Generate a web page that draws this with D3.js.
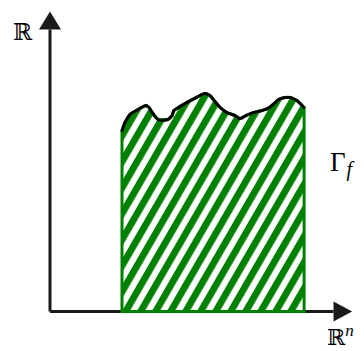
<!DOCTYPE html>
<html>
<head>
<meta charset="utf-8">
<script src="https://cdn.jsdelivr.net/npm/d3@7"></script>
<style>
  html, body { margin: 0; padding: 0; background: #fff; }
  svg { display: block; }
</style>
</head>
<body>
<svg id="chart" width="364" height="351"></svg>
<script>
// Graph of f: boundary (top curve) sampled points, in axis units
const curveX = [24.0, 25.0, 26.7, 29.3, 32.0, 33.0, 34.3, 36.0, 39.3, 40.7, 41.3, 43.3, 45.7, 48.7, 51.7, 53.3, 55.0, 56.7, 59.0, 61.7, 63.3, 65.3, 67.7, 70.7, 72.7, 74.7, 76.3, 78.3, 80.3, 82.3, 83.7, 84.7];
const curveY = [60.3, 63.0, 65.7, 67.3, 68.7, 68.0, 66.0, 64.0, 64.0, 65.3, 67.0, 68.3, 69.7, 71.3, 72.7, 72.0, 70.0, 68.0, 66.3, 65.3, 64.3, 65.3, 66.3, 67.0, 67.7, 69.3, 70.7, 71.3, 71.3, 70.3, 69.0, 68.0];
const axisLabels = ["\u211D", "\u211D"];
const graphLabel = "\u0393";
const graphSub = "f";
const expLabel = "n";

const svg = d3.select("#chart");
const x = d3.scaleLinear().domain([0, 100]).range([50, 350]);
const y = d3.scaleLinear().domain([0, 100]).range([311.5, 11.5]);

const green = "#008000";
const ink = "#1a1a1a";

// hatch pattern
const defs = svg.append("defs");
const pat = defs.append("pattern")
  .attr("id", "hatch")
  .attr("patternUnits", "userSpaceOnUse")
  .attr("width", 13).attr("height", 13)
  .attr("patternTransform", "translate(122,311) rotate(30)");
pat.append("rect").attr("x", 0).attr("y", 0).attr("width", 13).attr("height", 13).attr("fill", "#fff");
pat.append("rect").attr("x", 0).attr("y", 0).attr("width", 6.8).attr("height", 13).attr("fill", green);

const pts = curveX.map((d, i) => [d, curveY[i]]);
const x0 = curveX[0], x1 = curveX[curveX.length - 1];

// region polygon
const region = [[x0, 0]].concat(pts).concat([[x1, 0]]);
const lineGen = d3.line().x(d => x(d[0])).y(d => y(d[1]));

// axes
svg.append("line").attr("x1", x(0)).attr("y1", y(0)).attr("x2", x(0)).attr("y2", y(94))
  .attr("stroke", ink).attr("stroke-width", 3);
svg.append("line").attr("x1", x(0)).attr("y1", y(0)).attr("x2", x(94.5)).attr("y2", y(0))
  .attr("stroke", ink).attr("stroke-width", 3);
// arrowheads
svg.append("path").attr("d", `M${x(0)},${y(100)} L${x(0) - 11},${y(94)} L${x(0) + 11},${y(94)} Z`).attr("fill", ink);
svg.append("path").attr("d", `M${x(100.7)},${y(0)} L${x(94.5)},${y(0) - 10} L${x(94.5)},${y(0) + 10} Z`).attr("fill", ink);

// filled region
svg.append("path").attr("d", lineGen(region) + "Z")
  .attr("fill", "url(#hatch)").attr("stroke", green).attr("stroke-width", 3)
  .attr("stroke-linejoin", "miter");
// top curve
svg.append("path").attr("d", d3.line().x(d => x(d[0])).y(d => y(d[1])).curve(d3.curveCatmullRom)(pts))
  .attr("fill", "none").attr("stroke", "#000").attr("stroke-width", 3)
  .attr("stroke-linecap", "round").attr("stroke-linejoin", "round");

// labels
const serif = "'DejaVu Serif', 'Liberation Serif', serif";
svg.append("text").attr("x", 13).attr("y", 40).attr("font-family", serif).attr("font-size", 23)
  .attr("fill", "#000").text(axisLabels[0]);
const rn = svg.append("text").attr("x", 327).attr("y", 345).attr("font-family", serif).attr("font-size", 22).attr("fill", "#000");
rn.append("tspan").text(axisLabels[1]);
rn.append("tspan").attr("font-family", "'Liberation Serif', serif").attr("font-size", 17).attr("dy", -9).attr("font-style", "italic").text(expLabel);
const gf = svg.append("text").attr("x", 330).attr("y", 171).attr("font-family", "'Liberation Serif', serif").attr("font-size", 27).attr("fill", "#000");
gf.append("tspan").text(graphLabel);
gf.append("tspan").attr("font-size", 20).attr("dy", 5).attr("dx", 1).attr("font-style", "italic").text(graphSub);
</script>
</body>
</html>
